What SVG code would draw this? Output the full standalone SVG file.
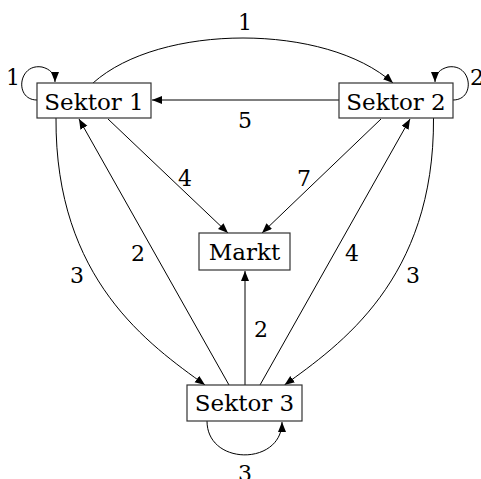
<svg xmlns="http://www.w3.org/2000/svg" width="481" height="479" viewBox="0 0 481 479">
<style>
.box{fill:#fff;stroke:#333;stroke-width:1.2}
text{font-family:'DejaVu Serif',serif;text-anchor:middle;fill:#000}
.t{font-size:23px}
.l{font-size:22px}
.e{fill:none;stroke:#000;stroke-width:1;marker-end:url(#arr)}
</style>
<defs>
<marker id="arr" markerUnits="userSpaceOnUse" markerWidth="11" markerHeight="9" refX="10" refY="4" orient="auto">
<path d="M0,0 L10,4 L0,8 z" fill="#000"/>
</marker>
</defs>
<rect width="481" height="479" fill="#fff"/>
<g id="connectors">
<path class="e" d="M93,83 C160,23 326,23 393,83"/>
<path class="e" d="M339,100 L152,100"/>
<path class="e" d="M37,100 C14,100 18,63 42,67 C50,69 55,74 55,82"/>
<path class="e" d="M453,100 C476,100 472,63 448,67 C440,69 435,74 435,82"/>
<path class="e" d="M108,119 L228,233"/>
<path class="e" d="M381,119 L262,233"/>
<path class="e" d="M229,385 L79,119"/>
<path class="e" d="M260,385 L410,119"/>
<path class="e" d="M245,385 L245,271"/>
<path class="e" d="M56,118 C55,280 150,345 205,385"/>
<path class="e" d="M433.5,118 C434.5,280 339.5,345 284.5,385"/>
<path class="e" d="M207,421 C207,466 282,466 282,422"/>
</g>
<g id="labels">
<text class="l" x="245" y="30">1</text>
<text class="l" x="245" y="128">5</text>
<text class="l" x="13" y="85">1</text>
<text class="l" x="477" y="85">2</text>
<text class="l" x="185" y="186">4</text>
<text class="l" x="304" y="186">7</text>
<text class="l" x="138" y="261">2</text>
<text class="l" x="352" y="261">4</text>
<text class="l" x="77" y="283">3</text>
<text class="l" x="413" y="283">3</text>
<text class="l" x="261" y="337">2</text>
<text class="l" x="245" y="481">3</text>
</g>
<g id="sektor1"><rect class="box" x="37" y="83" width="114" height="35"/><text class="t" x="94" y="110">Sektor 1</text></g>
<g id="sektor2"><rect class="box" x="339" y="83" width="114" height="35"/><text class="t" x="396" y="110">Sektor 2</text></g>
<g id="markt"><rect class="box" x="199" y="233" width="91" height="37"/><text class="t" x="244.5" y="260">Markt</text></g>
<g id="sektor3"><rect class="box" x="187" y="385" width="115" height="36"/><text class="t" x="244.5" y="411">Sektor 3</text></g>
</svg>
